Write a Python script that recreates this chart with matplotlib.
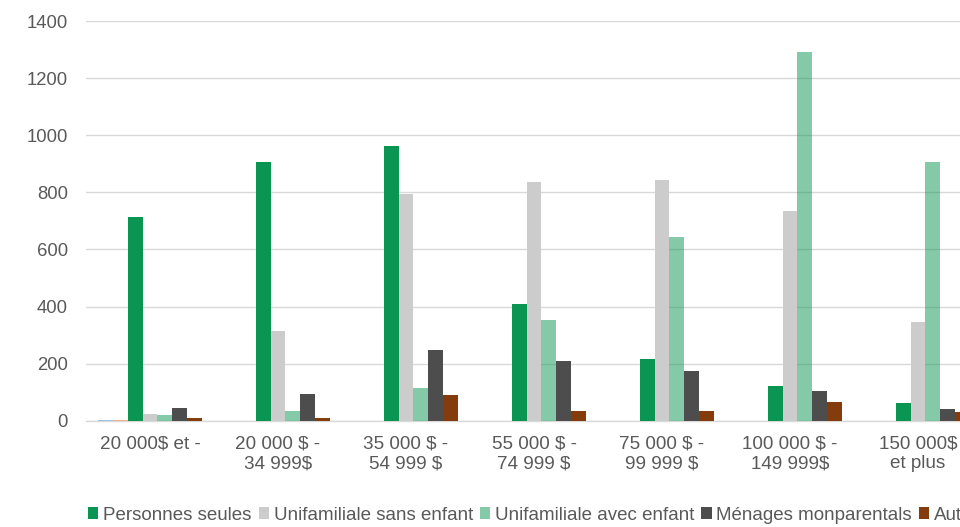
import matplotlib
matplotlib.use("Agg")
import matplotlib.pyplot as plt
from matplotlib.patches import Patch
import numpy as np

plt.rcParams['font.family'] = ['Liberation Sans', 'DejaVu Sans']

categories = ["20 000$ et -", "20 000 $ -\n34 999$", "35 000 $ -\n54 999 $",
              "55 000 $ -\n74 999 $", "75 000 $ -\n99 999 $", "100 000 $ -\n149 999$",
              "150 000$\net plus"]

serie_bleue = [3, 0, 0, 0, 0, 0, 0]
serie_orange = [3, 0, 0, 0, 0, 0, 0]
personnes_seules = [715, 906, 962, 408, 215, 123, 63]
sans_enfant = [23, 314, 793, 837, 843, 733, 344]
avec_enfant = [19, 34, 113, 352, 642, 1292, 906]
monoparentaux = [43, 95, 249, 209, 173, 103, 40]
autres = [8, 9, 89, 35, 35, 65, 29]

series = [
    ("_nolegend_", serie_bleue, "#9DC3E6", 1.0),
    ("_nolegend_", serie_orange, "#F4B183", 1.0),
    ("Personnes seules", personnes_seules, "#0A9652", 1.0),
    ("Unifamiliale sans enfant", sans_enfant, "#CCCCCC", 1.0),
    ("Unifamiliale avec enfant", avec_enfant, "#0A9652", 0.5),
    ("Ménages monparentals", monoparentaux, "#4D4D4D", 1.0),
    ("Autres", autres, "#843C0C", 1.0),
]

W, H = 960, 527
fig = plt.figure(figsize=(W / 100, H / 100), dpi=100)
ax = fig.add_axes([86 / W, (H - 420.7) / H, (W - 86) / W, (420.7 - 21) / H])

x = np.arange(len(categories))
bw = 0.1156
handles = []
for i, (lab, vals, col, a) in enumerate(series):
    ax.bar(x + (i - 3) * bw, vals, width=bw, color=col, alpha=a,
           edgecolor="none", zorder=3)
    if lab != "_nolegend_":
        handles.append(Patch(facecolor=col, alpha=a, label=lab))

ax.set_xlim(-0.5, -0.5 + (W - 86) / 128)
ax.set_ylim(0, 1400)
ax.set_yticks(range(0, 1401, 200))
ax.set_xticks(x)
ax.set_xticklabels(categories, linespacing=1.22)
ax.yaxis.grid(True, color="#D9D9D9", linewidth=1.0, zorder=0)
ax.set_axisbelow(True)
for s in ["top", "right", "left"]:
    ax.spines[s].set_visible(False)
ax.spines["bottom"].set_color("#D9D9D9")
ax.spines["bottom"].set_linewidth(1.0)
ax.tick_params(axis="both", length=0, colors="#595959")
ax.tick_params(axis="x", labelsize=13.6, pad=10.5)
ax.tick_params(axis="y", labelsize=13.3, pad=13)

fig.legend(handles=handles, loc="center left", bbox_to_anchor=(88 / W, 1 - 515 / H),
           ncol=len(handles), frameon=False, fontsize=13.5, labelcolor="#595959",
           handlelength=0.55, handleheight=0.55, handletextpad=0.25,
           columnspacing=0.38, borderpad=0, borderaxespad=0)

fig.savefig("out.png", dpi=100)
